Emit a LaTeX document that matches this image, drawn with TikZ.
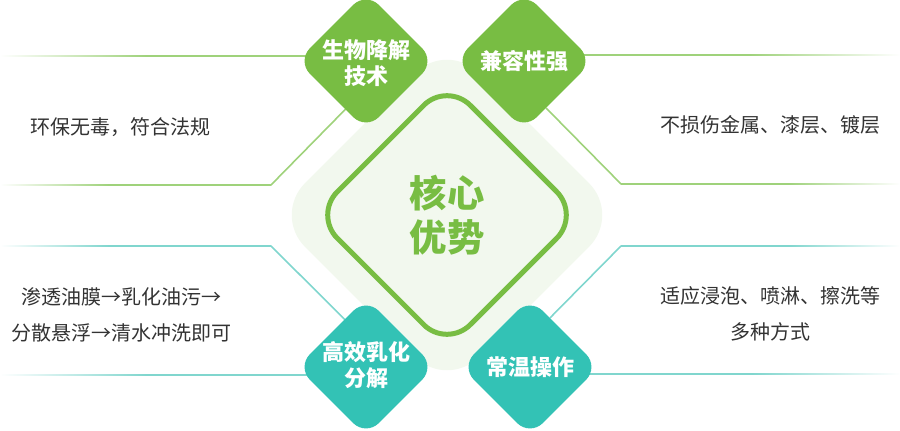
\documentclass[tikz,border=0pt]{standalone}
\usepackage{fontspec}
\setmainfont{Noto Sans CJK SC}
\usetikzlibrary{shapes.geometric}
\usetikzlibrary{calc}
\usetikzlibrary{backgrounds}

\definecolor{leafgreen}{HTML}{78BD43}
\definecolor{tealgreen}{HTML}{33C2B5}
\definecolor{lineg}{HTML}{9FD27B}
\definecolor{linet}{HTML}{80D6CE}
\definecolor{palegreen}{HTML}{F2F8EE}
\definecolor{textgray}{HTML}{333333}

\pgfdeclarehorizontalshading{gfade}{100bp}{color(0bp)=(white); color(25bp)=(white); color(45bp)=(lineg); color(100bp)=(lineg)}
\pgfdeclarehorizontalshading{tfade}{100bp}{color(0bp)=(white); color(25bp)=(white); color(45bp)=(linet); color(100bp)=(linet)}

\begin{document}
\begin{tikzpicture}[
			x=0.75pt, y=-0.75pt,
			dia/.style={diamond, shape aspect=1, inner sep=0pt, minimum size=103.5pt, rounded corners=13.5pt},
			dialabel/.style={text=white, align=center, font=\fontsize{16.5pt}{19pt}\selectfont\bfseries},
			note/.style={text=textgray, align=center, font=\fontsize{15pt}{27pt}\selectfont},
			conn/.style={line width=1.2pt, line cap=round},
			]
			\useasboundingbox (0,0) rectangle (900,431);

			% core
			\node[diamond, shape aspect=1, inner sep=0pt, fill=palegreen, minimum size=261pt, rounded corners=33.75pt] (corebg) at (447,215) {};
			\node[diamond, shape aspect=1, inner sep=0pt, draw=leafgreen, line width=3.75pt, minimum size=201pt, rounded corners=24.75pt] (corebox) at (447,215) {};
			\node[text=leafgreen, align=center, font=\fontsize{28pt}{33pt}\selectfont\bfseries] (coretxt) at (447,215) {核心\\优势};

			% four points
			\node[dia, fill=leafgreen] (bio) at (366,61) {};
			\node[dialabel] (biotxt) at (366,63) {生物降解\\技术};
			\node[dia, fill=leafgreen] (compat) at (524,61) {};
			\node[dialabel] (compattxt) at (compat) {兼容性强};
			\node[dia, fill=tealgreen] (emul) at (366,367) {};
			\node[dialabel] (emultxt) at (366,365) {高效乳化\\分解};
			\node[dia, fill=tealgreen] (room) at (530,367) {};
			\node[dialabel] (roomtxt) at (room) {常温操作};

			% notes
			\node[note] (eco) at (121,127) {环保无毒，符合法规};
			\node[note] (safe) at (770,125) {不损伤金属、漆层、镀层};
			\node[note] (steps) at (122,315) {渗透油膜→乳化油污→\\分散悬浮→清水冲洗即可};
			\node[note] (ways) at (770,314) {适应浸泡、喷淋、擦洗等\\多种方式};

			% lines
			\begin{pgfonlayer}{background}
				\coordinate (tla) at (0,56);
				\coordinate (tlb) at (0,185);
				\coordinate (tlbend) at (271,185);
				\coordinate (tla-e) at (tla -| bio);
				\shade[shading=gfade] ([yshift=0.6pt]tla) rectangle ([yshift=-0.6pt]tla-e);
				\shade[shading=gfade] ([yshift=0.6pt]tlb) rectangle ([yshift=-0.6pt]tlbend);
				\draw[conn, lineg] (tlbend) -- ($(bio.west)!0.7!(bio.south)$);

				\coordinate (tra) at (900,55);
				\coordinate (trb) at (900,184);
				\coordinate (trbend) at (621,184);
				\coordinate (tra-e) at (tra -| compat);
				\shade[shading=gfade, shading angle=180] ([yshift=0.6pt]tra-e) rectangle ([yshift=-0.6pt]tra);
				\shade[shading=gfade, shading angle=180] ([yshift=0.6pt]trbend) rectangle ([yshift=-0.6pt]trb);
				\draw[conn, lineg] (trbend) -- ($(compat.east)!0.68!(compat.south)$);

				\coordinate (bla) at (0,246);
				\coordinate (blb) at (0,375);
				\coordinate (blbend) at (271,246);
				\coordinate (blb-e) at (blb -| emul);
				\shade[shading=tfade] ([yshift=0.6pt]bla) rectangle ([yshift=-0.6pt]blbend);
				\shade[shading=tfade] ([yshift=0.6pt]blb) rectangle ([yshift=-0.6pt]blb-e);
				\draw[conn, linet] (blbend) -- ($(emul.west)!0.69!(emul.north)$);

				\coordinate (bra) at (900,246);
				\coordinate (brb) at (900,374);
				\coordinate (brbend) at (621,246);
				\coordinate (brb-e) at (brb -| room);
				\shade[shading=tfade, shading angle=180] ([yshift=0.6pt]brbend) rectangle ([yshift=-0.6pt]bra);
				\shade[shading=tfade, shading angle=180] ([yshift=0.6pt]brb-e) rectangle ([yshift=-0.6pt]brb);
				\draw[conn, linet] (brbend) -- ($(room.east)!0.71!(room.north)$);
			\end{pgfonlayer}
		\end{tikzpicture}
\end{document}
